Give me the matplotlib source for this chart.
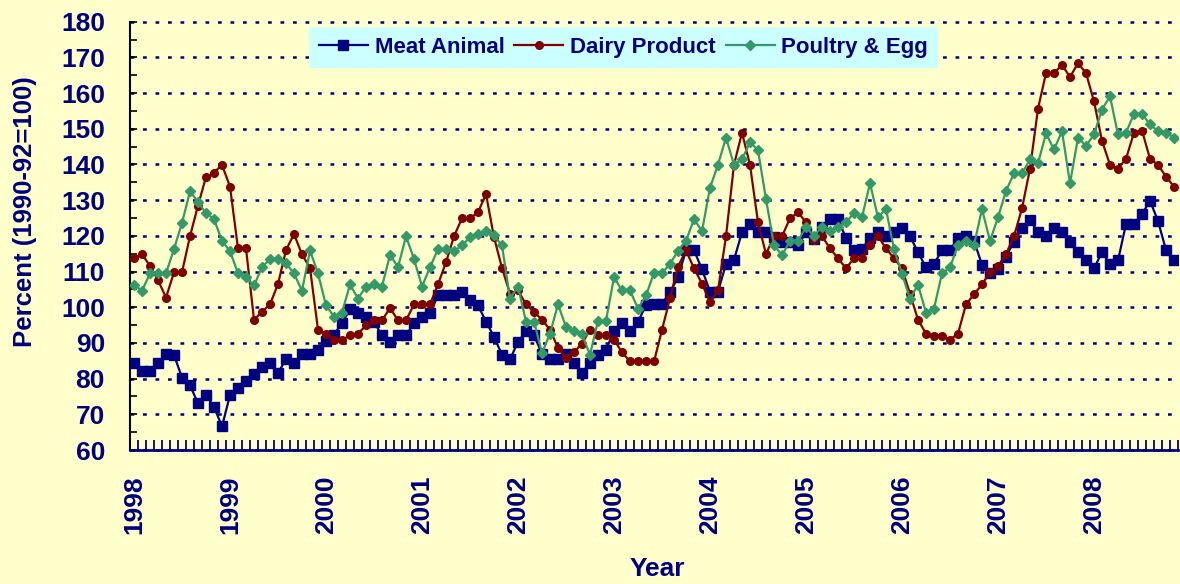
import numpy as np
import matplotlib
matplotlib.use("Agg")
from matplotlib import pyplot as plt

plt.rcParams['font.family'] = ['Liberation Sans', 'DejaVu Sans']

# monthly index, Jan 1998 .. Nov 2008
years = ['1998', '1999', '2000', '2001', '2002', '2003', '2004', '2005', '2006', '2007', '2008']

meat = [84.4, 82.2, 82.2, 84.4, 87.0, 86.6, 80.3, 78.1, 73.1, 75.4, 72.1, 66.6,
        75.4, 77.3, 79.4, 81.4, 83.3, 84.4, 81.6, 85.4, 84.4, 87.0, 87.0, 88.1,
        90.5, 92.3, 95.6, 99.4, 98.3, 97.3, 95.9, 92.1, 90.3, 92.1, 92.1, 95.6,
        97.2, 98.3, 103.3, 103.3, 103.3, 104.4, 102.1, 100.5, 96.0, 91.7, 86.7, 85.4,
        90.3, 93.3, 92.1, 87.0, 85.4, 85.4, 87.0, 84.4, 81.6, 84.4, 86.6, 88.1,
        93.3, 95.6, 93.3, 96.0, 100.5, 101.0, 101.0, 104.2, 108.4, 116.0, 116.0, 110.6,
        104.4, 104.4, 112.1, 113.3, 121.0, 123.3, 121.0, 121.0, 119.6, 118.4, 118.4, 117.3,
        121.0, 119.1, 122.4, 124.7, 124.7, 119.4, 115.9, 116.3, 119.4, 121.0, 120.0, 121.0,
        122.1, 119.9, 115.4, 111.2, 112.1, 116.0, 116.0, 119.4, 120.0, 118.6, 111.9, 109.5,
        110.6, 114.2, 118.4, 122.1, 124.4, 121.0, 119.9, 122.1, 121.0, 118.4, 115.4, 113.1,
        110.9, 115.4, 112.1, 113.1, 123.3, 123.3, 126.1, 129.8, 124.2, 116.0, 113.3]

dairy = [113.7, 114.8, 111.6, 107.6, 102.7, 109.8, 109.8, 119.9, 128.5, 136.5, 137.7, 139.9,
         133.8, 116.5, 116.5, 96.5, 98.7, 100.8, 106.5, 116.0, 120.5, 114.8, 111.0, 93.7,
         92.6, 90.9, 90.9, 92.1, 92.6, 94.9, 96.3, 96.3, 99.8, 96.3, 96.3, 100.8,
         100.8, 100.8, 106.4, 112.6, 119.9, 124.9, 124.9, 126.6, 131.7, 119.6, 111.0, 103.8,
         104.7, 100.8, 98.7, 96.5, 93.7, 88.6, 85.9, 87.4, 89.8, 93.7, 92.1, 92.1,
         90.9, 87.4, 84.8, 84.8, 84.8, 84.8, 93.7, 102.6, 111.4, 115.9, 110.9, 106.6,
         101.4, 104.7, 119.9, 139.9, 148.9, 139.9, 123.8, 114.9, 119.9, 119.9, 124.9, 126.6,
         123.8, 118.8, 119.9, 116.5, 113.7, 110.9, 113.7, 113.7, 117.4, 119.9, 116.5, 113.7,
         110.9, 103.8, 96.5, 92.6, 92.0, 92.0, 90.9, 92.6, 100.8, 103.6, 106.4, 109.8,
         111.5, 114.9, 119.9, 127.7, 138.8, 155.6, 165.6, 165.6, 167.9, 164.5, 168.4, 165.6,
         157.7, 146.6, 139.9, 138.8, 141.6, 148.9, 149.5, 141.6, 139.9, 136.6, 133.8]

poultry = [106.3, 104.6, 109.5, 109.5, 109.5, 116.3, 123.6, 132.5, 129.5, 126.3, 124.7, 118.6,
           115.7, 109.5, 108.4, 106.1, 111.2, 113.5, 113.5, 112.3, 109.5, 104.6, 115.9, 109.5,
           100.5, 97.4, 98.5, 106.4, 102.4, 105.8, 106.4, 105.8, 114.7, 111.2, 119.9, 113.5,
           105.8, 111.2, 116.3, 116.3, 115.7, 117.3, 119.6, 120.5, 121.3, 120.1, 117.3, 102.4,
           105.8, 96.0, 96.0, 87.2, 92.6, 100.8, 94.5, 93.3, 92.4, 86.7, 96.2, 96.2,
           108.4, 104.7, 104.7, 99.6, 103.3, 109.6, 109.6, 112.1, 115.8, 118.6, 124.7, 121.3,
           133.5, 139.9, 147.5, 139.9, 141.4, 146.3, 144.0, 130.3, 117.4, 114.5, 118.6, 118.6,
           122.4, 120.0, 122.4, 121.3, 122.4, 123.8, 126.4, 125.2, 134.7, 125.2, 127.5, 116.3,
           109.3, 102.4, 106.3, 98.5, 99.6, 109.5, 111.2, 117.4, 118.6, 117.4, 127.5, 118.6,
           125.2, 132.6, 137.5, 137.5, 141.4, 140.3, 148.7, 144.2, 149.3, 134.7, 147.5, 145.2,
           148.4, 155.4, 159.1, 148.4, 148.9, 154.2, 154.2, 151.2, 149.3, 148.9, 147.5]

navy = '#000080'
bg = '#FFFFCC'

fig = plt.figure(figsize=(11.8, 5.84), dpi=100, facecolor=bg)
ax = fig.add_axes([130 / 1180, 134 / 584, 1048 / 1180, 428.3 / 584])
ax.set_facecolor(bg)

x = np.arange(len(meat))
ax.plot(x, meat, color=navy, lw=1.6, marker='s', ms=6.5, label='Meat Animal', zorder=3)
ax.plot(x, dairy, color='#800000', lw=1.6, marker='o', ms=5.5, label='Dairy Product', zorder=4)
ax.plot(x, poultry, color='#339966', lw=1.6, marker='D', ms=5, label='Poultry & Egg', zorder=5)

ax.set_xlim(-0.5, len(meat) - 0.5)
ax.set_ylim(60, 180)

# y axis
ax.set_yticks(np.arange(60, 181, 10))
ax.set_yticks(np.arange(60, 181, 5), minor=True)
ax.tick_params(axis='y', which='both', direction='in', length=5, width=1.2, color='black',
               labelsize=19, labelcolor=navy, pad=18)
ax.grid(axis='y', color=navy, lw=1.8, linestyle=(0, (1.5, 3.5)))
for gl in ax.get_ygridlines():
    gl.set_clip_on(False)

# x axis: ticks between months, labels at each January
ax.set_xticks(np.arange(len(years)) * 12)
ax.set_xticklabels(years, rotation=90)
ax.set_xticks(np.arange(len(meat) + 1) - 0.5, minor=True)
ax.tick_params(axis='x', which='major', length=0, labelsize=19, labelcolor=navy, pad=18)
ax.tick_params(axis='x', which='minor', direction='in', length=7, width=1.3, color=navy)

for lab in ax.get_xticklabels() + ax.get_yticklabels():
    lab.set_fontweight('bold')

ax.spines['top'].set_visible(False)
ax.spines['right'].set_visible(False)
ax.spines['left'].set_color('black')
ax.spines['left'].set_linewidth(1.5)
ax.spines['bottom'].set_color(navy)
ax.spines['bottom'].set_linewidth(2)

ax.set_ylabel('Percent (1990-92=100)', fontsize=18.5, fontweight='bold', color=navy)
ax.yaxis.set_label_coords(-0.0887, 0.556)
ax.set_xlabel('Year', fontsize=19, fontweight='bold', color=navy)
ax.xaxis.set_label_coords(0.503, -0.25)

leg = ax.legend(loc='upper left', bbox_to_anchor=(309 / 1180, 1 - 27 / 584),
                bbox_transform=fig.transFigure, ncol=3, fontsize=16, frameon=True,
                fancybox=False, borderaxespad=0, borderpad=0.45, handlelength=2.2,
                handletextpad=0.3, columnspacing=0.45)
leg.get_frame().set_facecolor('#CCFFFF')
leg.get_frame().set_edgecolor('none')
leg.get_frame().set_alpha(1)
for t in leg.get_texts():
    t.set_color(navy)
    t.set_fontweight('bold')

fig.savefig('out.png', dpi=100, facecolor=bg)
